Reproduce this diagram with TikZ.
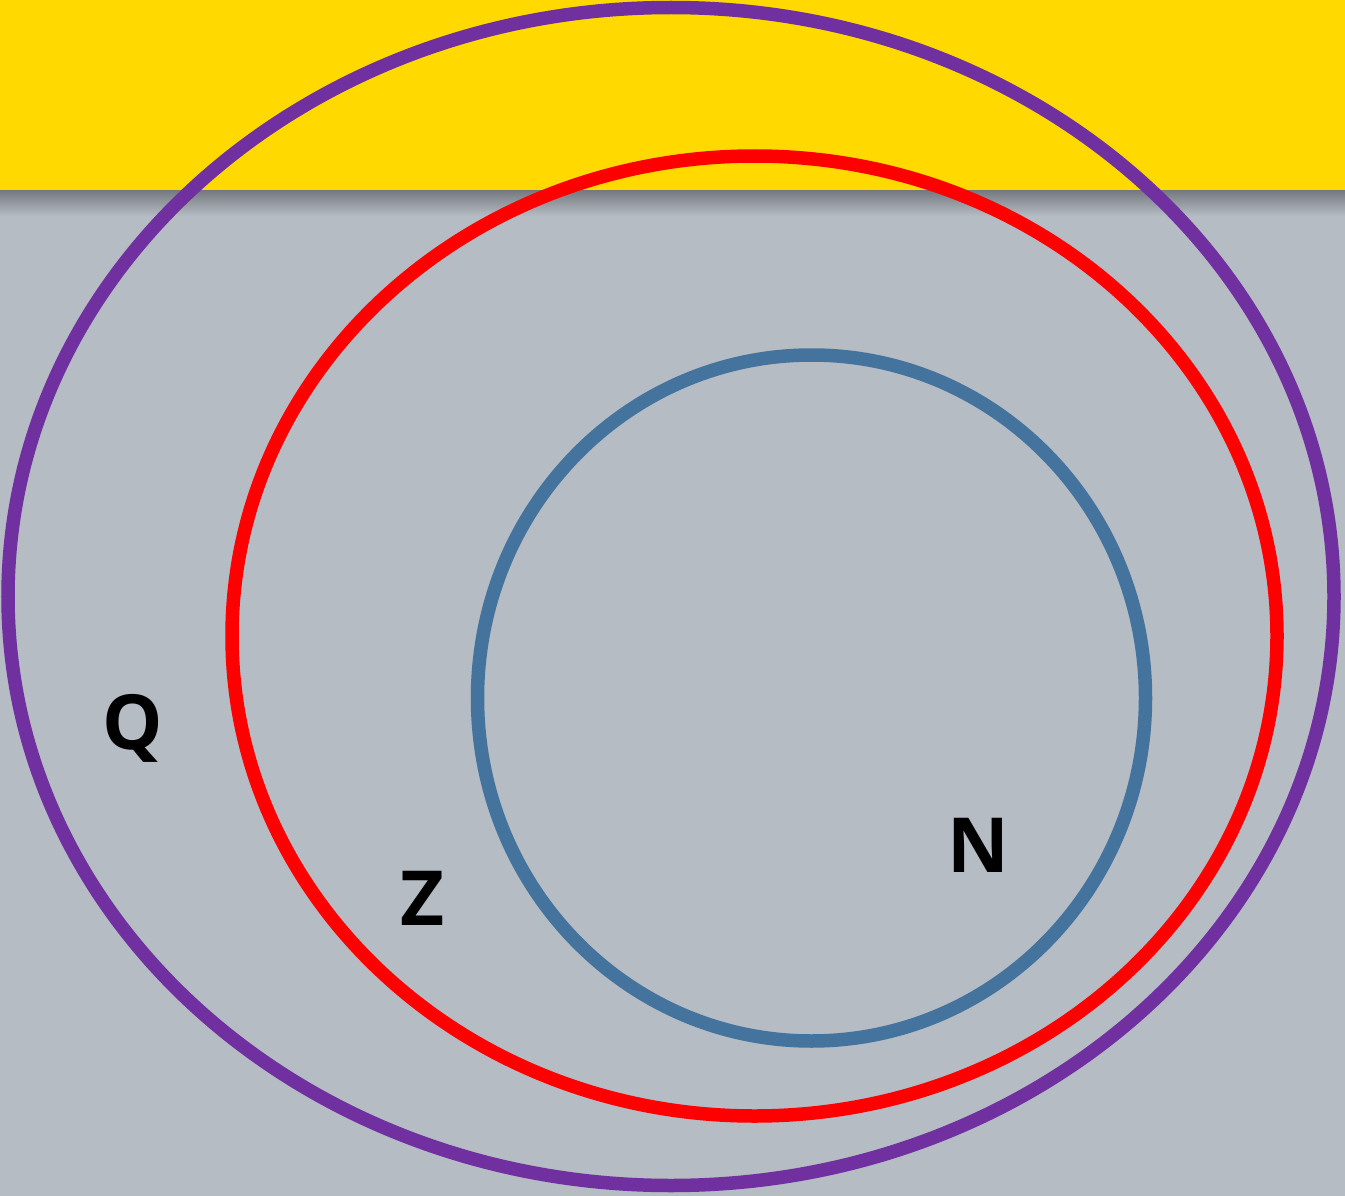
\documentclass[tikz,border=0pt]{standalone}
\usepackage{fontspec}
\setmainfont{Open Sans}
\usepackage{xcolor}
\usepackage{tikz}
\usetikzlibrary{positioning}
\definecolor{sun}{HTML}{FFD900}
\definecolor{ash}{HTML}{B6BCC4}
\definecolor{shade}{HTML}{777B81}
\definecolor{plum}{HTML}{7030A0}
\definecolor{scarlet}{HTML}{FF0000}
\definecolor{steel}{HTML}{44749D}
\tikzset{
  setring/.style={line width=13.5pt},
  ratring/.style={setring, draw=plum},
  intring/.style={setring, draw=scarlet},
  natring/.style={setring, draw=steel},
  setlbl/.style={font=\fontsize{76}{80}\selectfont\bfseries, text=black, inner sep=0pt},
}
\begin{document}
\begin{tikzpicture}[x=1pt, y=-1pt]
\useasboundingbox (0,0) rectangle (1345,1196);
% backdrop
\fill[ash] (0,0) rectangle (1345,1196);
\fill[sun] (0,0) rectangle (1345,191);
\shade[top color=shade, bottom color=ash] (0,191) rectangle (1345,216);
% sets
\draw[ratring] (671,596.5) ellipse [x radius=663, y radius=589];
\draw[intring] (754.5,636) ellipse [x radius=522.5, y radius=480];
\draw[natring] (811.5,698) ellipse [x radius=334, y radius=343];
% names
\node[setlbl] (q) at (133,728) {Q};
\node[setlbl] (z) at (423,898) {Z};
\node[setlbl] (n) at (978,845) {N};
\end{tikzpicture}
\end{document}
